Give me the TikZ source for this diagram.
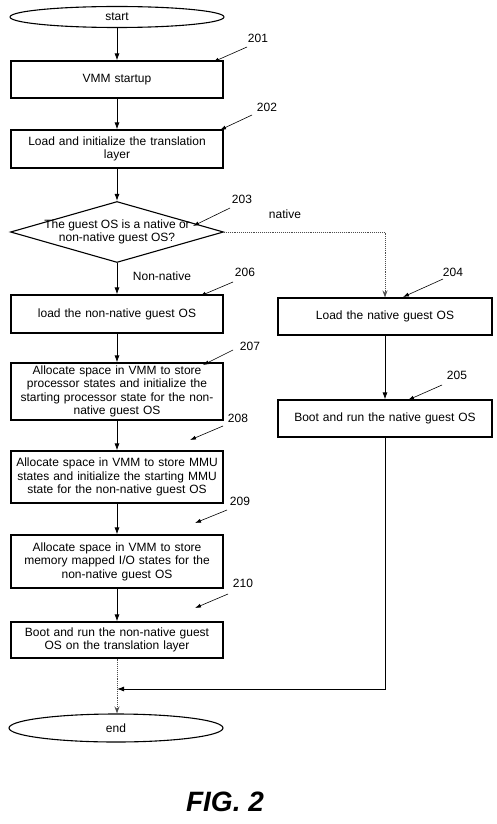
\documentclass[tikz,border=0pt]{standalone}
\usepackage{fontspec}
\setmainfont{Liberation Sans}
\usetikzlibrary{shapes.geometric,arrows.meta}
\newcommand\boxfont{\fontsize{12}{13.5}\selectfont}
\begin{document}
\begin{tikzpicture}[x=1pt,y=-1pt,
  box/.style={draw, line width=1.1pt, minimum width=212pt, text width=208pt, inner sep=2pt, align=center, font=\boxfont},
  rbox/.style={box, minimum width=214pt},
  ell/.style={draw, ellipse, line width=1.1pt, minimum width=214pt, inner sep=0pt, font=\boxfont},
  dia/.style={draw, diamond, line width=1.1pt, minimum width=213pt, minimum height=61pt, inner sep=0pt},
  txt/.style={inner sep=0pt, align=center, font=\boxfont},
  lbl/.style={inner sep=0pt, font=\fontsize{12}{14}\selectfont},
  arr/.style={line width=0.9pt, -{Latex[length=7pt,width=5pt]}},
  dotarr/.style={line width=0.9pt, densely dotted, draw=black!70, -{Stealth[length=7pt,width=5pt,open]}},
  lead/.style={line width=0.6pt, -{Latex[length=6pt,width=4pt]}}
]
\useasboundingbox (0,0) rectangle (496,824);

% main column
\node[ell, minimum height=21pt] (start) at (117,17) {start};
\node[box, minimum height=37pt] (b201) at (117,79.5) {VMM startup};
\node[box, minimum height=38pt] (b202) at (117,149) {Load and initialize the translation\\layer};
\node[dia] (dia) at (117,232) {};
\node[txt] (diat) at (117,232) {The guest OS is a native or\\non-native guest OS?};
\node[box, minimum height=38pt] (b206) at (117,314) {load the non-native guest OS};
\node[box, minimum height=57pt] (b207) at (117,391.5) {Allocate space in VMM to store\\processor states and initialize the\\starting processor state for the non-\\native guest OS};
\node[box, minimum height=52pt] (b208) at (117,477) {Allocate space in VMM to store MMU\\states and initialize the starting MMU\\state for the non-native guest OS};
\node[box, minimum height=53pt] (b209) at (117,561.5) {Allocate space in VMM to store\\memory mapped I/O states for the\\non-native guest OS};
\node[box, minimum height=36pt] (b210) at (117,640) {Boot and run the non-native guest\\OS on the translation layer};
\node[ell, minimum height=28pt] (endn) at (116,728) {end};

% right column
\node[rbox, minimum height=37pt] (b204) at (385,316.5) {Load the native guest OS};
\node[rbox, minimum height=37pt] (b205) at (385,418.5) {Boot and run the native guest OS};

% branch labels
\node[lbl] (lnat) at (285,214) {native};
\node[lbl] (lnon) at (162,276) {Non-native};

% connectors
\draw[arr] (start.south) -- (b201.north);
\draw[arr] (b201.south) -- (b202.north);
\draw[arr] (b202.south) -- (dia.north);
\draw[arr] (dia.south) -- (b206.north);
\draw[arr] (b206.south) -- (b207.north);
\draw[arr] (b207.south) -- (b208.north);
\draw[arr] (b208.south) -- (b209.north);
\draw[arr] (b209.south) -- (b210.north);
\draw[dotarr] (dia.east) -- (dia.east -| b204.north) -- (b204.north);
\draw[arr] (b204.south) -- (b205.north);
\coordinate (ret) at (385,689);
\draw[arr] (b205.south) -- (ret) -- (ret -| b210.south);
\draw[dotarr] (b210.south) -- (b210.south |- endn.north);

% reference numerals
\node[lbl] (l201) at (258,38) {201};
\node[lbl] (l202) at (267,107) {202};
\node[lbl] (l203) at (242,199) {203};
\node[lbl] (l206) at (245,272) {206};
\node[lbl] (l204) at (453,272) {204};
\node[lbl] (l207) at (250,346) {207};
\node[lbl] (l208) at (238,418) {208};
\node[lbl] (l209) at (240,501) {209};
\node[lbl] (l210) at (243,583) {210};
\node[lbl] (l205) at (457,375) {205};

\coordinate (t201) at (213,62);
\coordinate (t202) at (220,130);
\coordinate (t203) at (193,226);
\coordinate (t206) at (200,296);
\coordinate (t204) at (403,297);
\coordinate (t207) at (203,365);
\coordinate (t208) at (190,440);
\coordinate (t209) at (195,523);
\coordinate (t210) at (195,608);
\coordinate (t205) at (408,400);

\draw[lead] ([shift={(-11,9)}]l201.center) -- (t201);
\draw[lead] ([shift={(-15,8)}]l202.center) -- (t202);
\draw[lead] ([shift={(-12,9)}]l203.center) -- (t203);
\draw[lead] ([shift={(-12,10)}]l206.center) -- (t206);
\draw[lead] ([shift={(-10,7)}]l204.center) -- (t204);
\draw[lead] ([shift={(-17,4)}]l207.center) -- (t207);
\draw[lead] ([shift={(-15,8)}]l208.center) -- (t208);
\draw[lead] ([shift={(-13,9)}]l209.center) -- (t209);
\draw[lead] ([shift={(-15,11)}]l210.center) -- (t210);
\draw[lead] ([shift={(-15,10)}]l205.center) -- (t205);

% caption
\node[inner sep=0pt, font=\fontsize{28}{32}\selectfont\bfseries\itshape] (fig) at (225,802) {FIG. 2};
\end{tikzpicture}
\end{document}
